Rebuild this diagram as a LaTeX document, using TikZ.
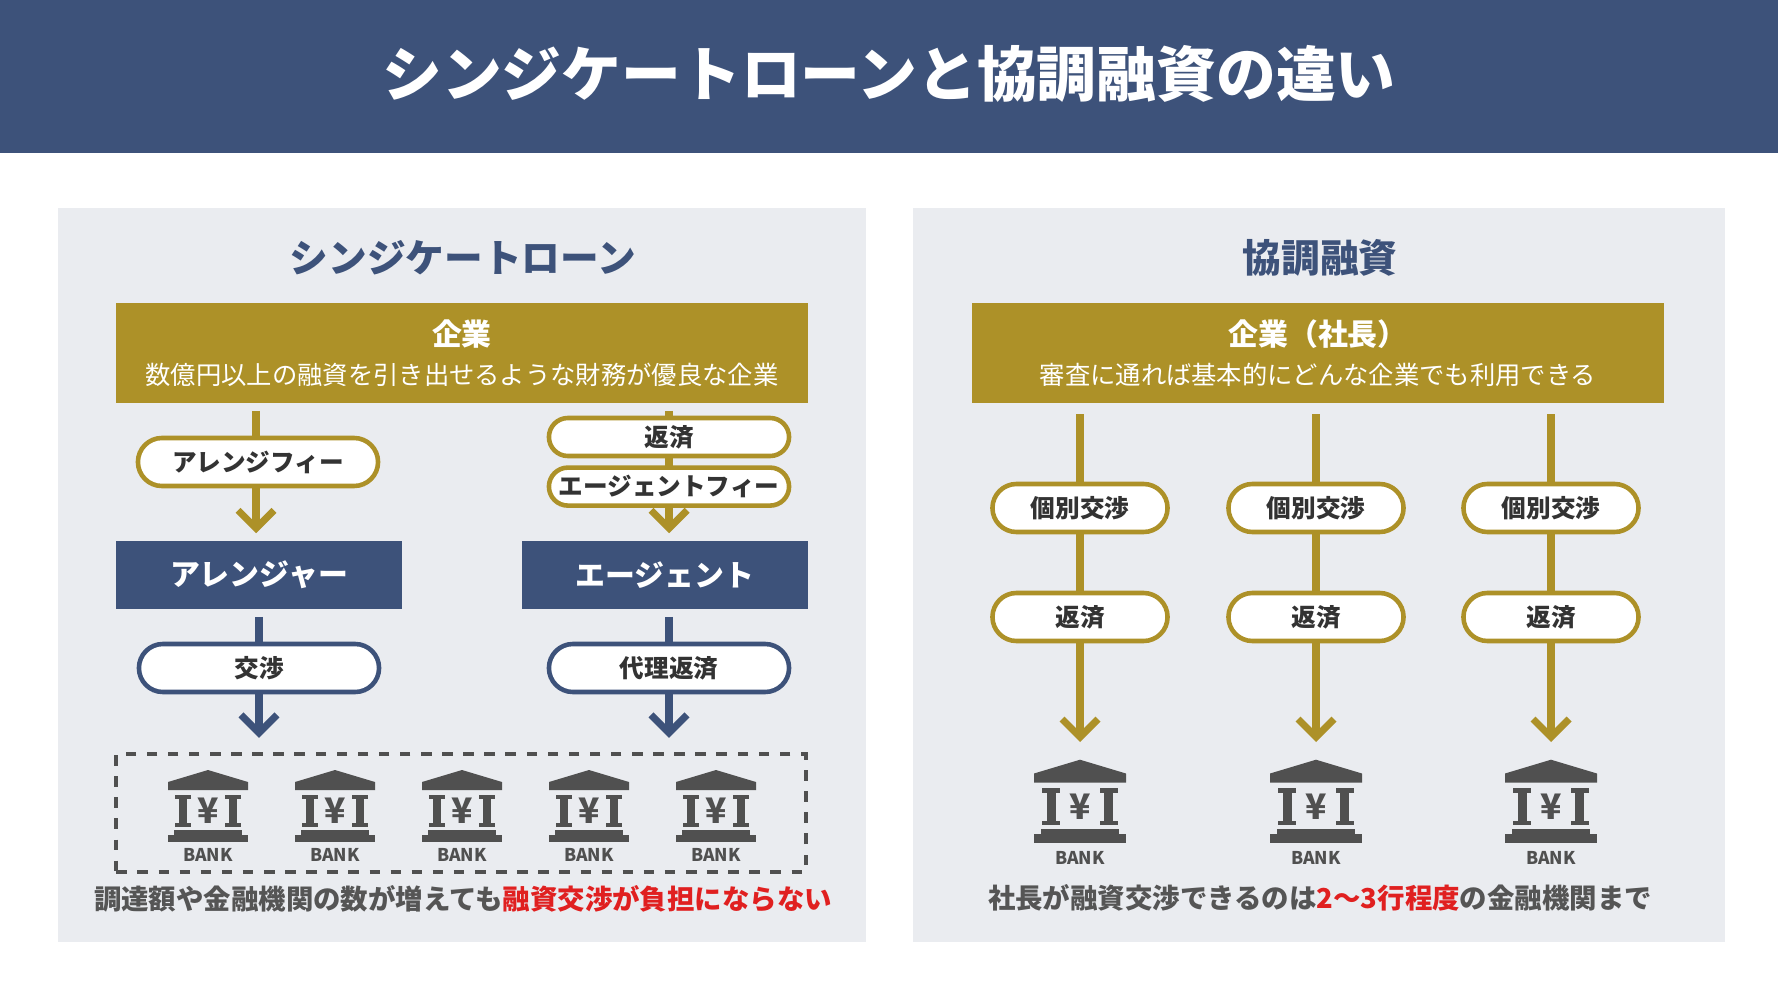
\documentclass[tikz,border=0pt]{standalone}
\usepackage{fontspec}
\setmainfont{Noto Sans CJK JP}
\usetikzlibrary{positioning, arrows.meta, shapes.misc}

\definecolor{navy}{HTML}{3D527A}
\definecolor{gold}{HTML}{AD9128}
\definecolor{panel}{HTML}{EAECF0}
\definecolor{ink}{HTML}{333333}
\definecolor{iconc}{HTML}{505050}
\definecolor{textgray}{HTML}{555555}
\definecolor{alert}{HTML}{E02020}

\tikzset{
  goldbox/.style={fill=gold, text=white, minimum width=6.91cm, minimum height=1cm, inner sep=0pt, align=center},
  navybox/.style={fill=navy, text=white, minimum width=2.85cm, minimum height=0.68cm, inner sep=0pt, font=\fontsize{8.5}{10}\selectfont\bfseries},
  pill/.style={rounded rectangle, draw=#1, line width=1.3pt, fill=white, text=ink, minimum width=2.4cm, minimum height=0.48cm, inner sep=0pt, font=\fontsize{7}{8}\selectfont\bfseries},
  goldarrow/.style={draw=gold, line width=2pt, -{Straight Barb[length=1.8mm, width=3.6mm, line width=2pt]}},
  navyarrow/.style={draw=navy, line width=2pt, -{Straight Barb[length=1.8mm, width=3.6mm, line width=2pt]}},
  bank/.pic={
    \fill[iconc] (0,-42) -- (40,-30) -- (40,-22) -- (-40,-22) -- (-40,-30) -- cycle;
    \foreach \s in {-1,1} {
      \fill[iconc] (\s*21,-17) rectangle (\s*29,15);
      \fill[iconc] (\s*17,-17) rectangle (\s*33,-13);
      \fill[iconc] (\s*17,11) rectangle (\s*33,15);
    }
    \node[text=iconc, font=\fontsize{10}{10}\selectfont\bfseries, inner sep=0pt] at (0,-1) {¥};
    \fill[iconc] (-34,18) rectangle (34,23);
    \fill[iconc] (-40,23) rectangle (40,30);
    \node[text=iconc, font=\fontsize{5}{5}\selectfont\bfseries, inner sep=0pt] at (0,43) {BANK};
  }
}

\begin{document}
\begin{tikzpicture}[x=0.01cm, y=-0.01cm]
\useasboundingbox (0,0) rectangle (1778,1000);
\fill[white] (0,0) rectangle (1778,1000);

% title bar
\fill[navy] (0,0) rectangle (1778,153);
\node[text=white, font=\fontsize{17}{20}\selectfont\bfseries] (title) at (889,74) {シンジケートローンと協調融資の違い};

% panels
\fill[panel] (58,208) rectangle (866,942);
\fill[panel] (913,208) rectangle (1725,942);
\node[text=navy, font=\fontsize{11}{13}\selectfont\bfseries] (synTitle) at (463,258) {シンジケートローン};
\node[text=navy, font=\fontsize{11}{13}\selectfont\bfseries] (kyoTitle) at (1320,258) {協調融資};

% ---- syndicated loan ----
\node[goldbox] (kigyoL) at (462,353) {{\fontsize{8.5}{10}\selectfont\bfseries 企業}\\[-1pt]{\fontsize{7.2}{8}\selectfont 数億円以上の融資を引き出せるような財務が優良な企業}};
\node[navybox] (arranger) at (259,575) {アレンジャー};
\node[navybox] (agent) at (665,575) {エージェント};
\node[draw=iconc, dashed, line width=1.2pt, minimum width=6.89cm, minimum height=1.18cm] (banks) at (461,813) {};

\coordinate (aTop) at (256,353);
\coordinate (gTop) at (669,353);
\draw[goldarrow, shorten <=2pt, shorten >=2pt] (kigyoL.south -| aTop) -- (arranger.north -| aTop);
\draw[goldarrow, shorten <=2pt, shorten >=2pt] (kigyoL.south -| gTop) -- (agent.north -| gTop);
\draw[navyarrow, shorten <=2pt, shorten >=4pt] (arranger.south) -- (banks.north -| arranger.south);
\draw[navyarrow, shorten <=2pt, shorten >=4pt] (agent.south -| gTop) -- (banks.north -| gTop);

\node[pill=gold] (arrFee) at (258,462) {アレンジフィー};
\node[pill=gold, minimum height=0.38cm] (hensaiL) at (669,437) {返済};
\node[pill=gold, minimum height=0.38cm, below=0.07cm of hensaiL] (agentFee) {エージェントフィー};
\node[pill=navy] (kosho) at (259,668) {交渉};
\node[pill=navy] (dairi) at (669,668) {代理返済};

\foreach \x [count=\i] in {208,335,462,589,716}
  \pic at (\x,812) {bank};

\node[font=\fontsize{7.8}{9}\selectfont\bfseries, text=textgray] (noteL) at (463,899) {調達額や金融機関の数が増えても\textcolor{alert}{融資交渉が負担にならない}};

% ---- cooperative loan ----
\node[goldbox] (kigyoR) at (1318,353) {{\fontsize{8.5}{10}\selectfont\bfseries 企業（社長）}\\[-1pt]{\fontsize{7.2}{8}\selectfont 審査に通れば基本的にどんな企業でも利用できる}};

\foreach \x [count=\i] in {1080,1316,1551} {
  \coordinate (bank\i) at (\x,742);
  \draw[goldarrow, shorten <=3pt] (kigyoR.south -| bank\i) -- (bank\i);
  \node[pill=gold, minimum width=1.75cm] (kobetsu\i) at (\x,508) {個別交渉};
  \node[pill=gold, minimum width=1.75cm] (hensai\i) at (\x,617) {返済};
  \pic[scale=1.15] at (\x,808) {bank};
}

\node[font=\fontsize{7.8}{9}\selectfont\bfseries, text=textgray] (noteR) at (1320,898) {社長が融資交渉できるのは\textcolor{alert}{2〜3行程度}の金融機関まで};
\end{tikzpicture}
\end{document}
